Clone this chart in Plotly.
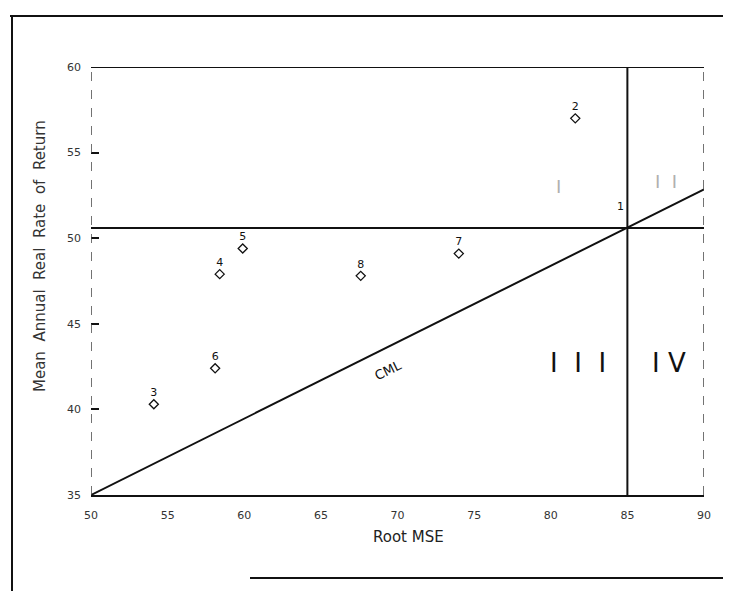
import plotly.graph_objects as go

# ---- data ----
port_labels = ["2", "5", "4", "8", "7", "6", "3"]
port_x = [81.6, 59.9, 58.4, 67.6, 74.0, 58.1, 54.1]
port_y = [57.0, 49.4, 47.9, 47.8, 49.1, 42.4, 40.3]

market_label = ["1"]
market_x = [85.0]
market_y = [50.6]

cml_x = [50, 90]
cml_y = [35, 52.85]

hline_y = 50.6
vline_x = 85.0

x_ticks = [50, 55, 60, 65, 70, 75, 80, 85, 90]
y_ticks = [35, 40, 45, 50, 55, 60]

FONT = "DejaVu Sans"
INK = "#111111"

# plot area in window pixels (page has an 8px body margin)
L, R, T, B = 91, 704, 67, 495
W, H = 731, 591
PW, PH = R - L, B - T

def px(x):
    return (x - L) / PW

def py(y):
    return (B - y) / PH

fig = go.Figure()

# quadrant lines
fig.add_trace(go.Scatter(x=[50, 90], y=[hline_y, hline_y], mode="lines",
                         line=dict(color=INK, width=2), hoverinfo="skip", showlegend=False))
fig.add_trace(go.Scatter(x=[vline_x, vline_x], y=[35, 60], mode="lines",
                         line=dict(color=INK, width=2), hoverinfo="skip", showlegend=False))
# CML
fig.add_trace(go.Scatter(x=cml_x, y=cml_y, mode="lines",
                         line=dict(color=INK, width=2), hoverinfo="skip", showlegend=False))
# portfolios
fig.add_trace(go.Scatter(x=port_x, y=port_y, mode="markers+text", text=port_labels,
                         textposition="top center",
                         textfont=dict(family=FONT, size=11, color=INK),
                         marker=dict(symbol="diamond-open", size=7, color=INK,
                                     line=dict(width=1.3, color=INK)),
                         showlegend=False))
# market portfolio label
for lab, mx, my in zip(market_label, market_x, market_y):
    fig.add_annotation(x=mx, y=my, text=lab, showarrow=False, xshift=-7, yshift=21,
                       font=dict(family=FONT, size=11, color=INK))

# annotations
fig.add_annotation(x=69.35, y=42.3, text="CML", showarrow=False, textangle=-26,
                   font=dict(family=FONT, size=13, color=INK))
fig.add_annotation(x=81.8, y=42.7, text="I  I  I", showarrow=False,
                   font=dict(family=FONT, size=26, color=INK))
fig.add_annotation(x=87.7, y=42.7, text="I V", showarrow=False,
                   font=dict(family=FONT, size=26, color=INK))
fig.add_annotation(x=80.5, y=53.0, text="I", showarrow=False,
                   font=dict(family=FONT, size=18, color="#b0b0b0"))
fig.add_annotation(x=87.5, y=53.3, text="I  I", showarrow=False,
                   font=dict(family=FONT, size=18, color="#b0b0b0"))

# axis titles
fig.add_annotation(xref="paper", yref="paper", x=px(40), y=py(256), xanchor="center",
                   yanchor="middle",
                   text="Mean  Annual  Real  Rate  of  Return", textangle=-90, showarrow=False,
                   font=dict(family=FONT, size=15, color="#333333"))
fig.add_annotation(xref="paper", yref="paper", x=px(408), y=py(537), xanchor="center",
                   yanchor="middle",
                   text="Root MSE", showarrow=False,
                   font=dict(family=FONT, size=15, color="#222222"))

# frame lines
fig.add_shape(type="line", xref="x", yref="y", x0=50, x1=90, y0=60, y1=60,
              line=dict(color=INK, width=2))
fig.add_shape(type="line", xref="x", yref="y", x0=50, x1=50, y0=35, y1=60,
              line=dict(color="#444444", width=1.5, dash="dash"))
fig.add_shape(type="line", xref="x", yref="y", x0=90, x1=90, y0=35, y1=60,
              line=dict(color="#444444", width=1.5, dash="dash"))
# outer page border
fig.add_shape(type="line", xref="paper", yref="paper", x0=px(10), x1=px(731), y0=py(16), y1=py(16),
              line=dict(color=INK, width=2))
fig.add_shape(type="line", xref="paper", yref="paper", x0=px(12), x1=px(12), y0=py(16), y1=py(591),
              line=dict(color=INK, width=2))
fig.add_shape(type="line", xref="paper", yref="paper", x0=px(250), x1=px(731), y0=py(578), y1=py(578),
              line=dict(color=INK, width=2))

fig.update_xaxes(range=[50, 90], tickvals=x_ticks, ticktext=[str(v) for v in x_ticks],
                 showgrid=False, zeroline=False, showline=True, linecolor=INK, linewidth=2,
                 ticks="", ticklabelstandoff=9,
                 tickfont=dict(family=FONT, size=11, color="#333333"))
fig.update_yaxes(range=[35, 60], tickvals=y_ticks, ticktext=[str(v) for v in y_ticks],
                 showgrid=False, zeroline=False, showline=False,
                 ticks="inside", ticklen=8, tickcolor=INK, tickwidth=1.5,
                 ticklabelstandoff=9,
                 tickfont=dict(family=FONT, size=11, color="#333333"))

fig.update_layout(width=W, height=H,
                  margin=dict(l=L - 8, r=W - R + 8, t=T - 8, b=H - B + 8),
                  paper_bgcolor="white", plot_bgcolor="white", showlegend=False)

fig.write_html("out.html")
